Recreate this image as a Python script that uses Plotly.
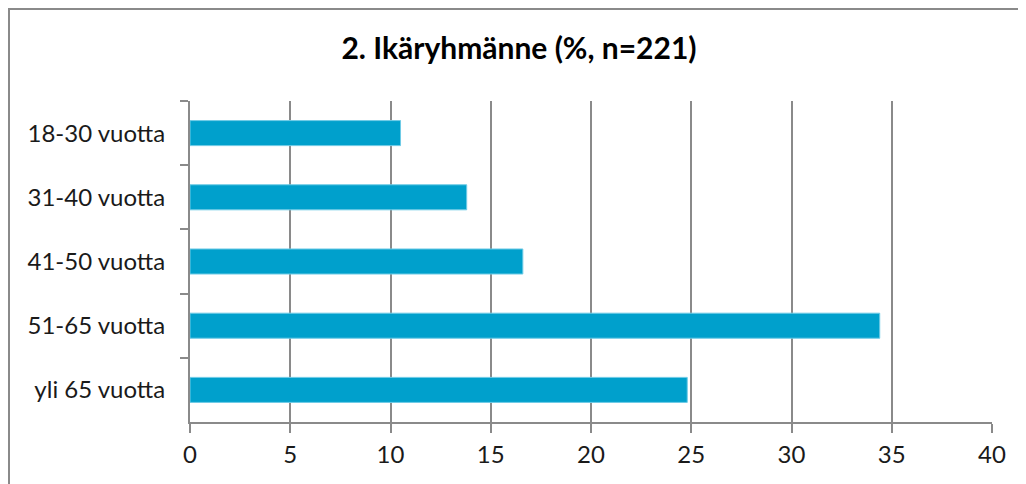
import plotly.graph_objects as go

categories = ["18-30 vuotta", "31-40 vuotta", "41-50 vuotta", "51-65 vuotta", "yli 65 vuotta"]
values = [10.5, 13.8, 16.6, 34.4, 24.8]
x_ticks = [0, 5, 10, 15, 20, 25, 30, 35, 40]
title_text = "2. Ikäryhmänne (%, n=221)"

# page body has an 8px default margin; lay out the figure in page pixels
OFF = 8
PAGE_W, PAGE_H = 1026, 484
W, H = PAGE_W - OFF, PAGE_H - OFF
L, R, T, B = 190 - OFF, PAGE_W - 992, 101 - OFF, PAGE_H - 422
pw, ph = W - L - R, H - T - B

def px_x(px):
    return (px - OFF - L) / pw

def px_y(py):
    return (H - B - (py - OFF)) / ph

fig = go.Figure()
fig.add_trace(go.Bar(
    y=categories, x=values, orientation="h",
    width=0.39,
    marker=dict(color="#00A0CC", line=dict(color="#6fcbe6", width=1)),
    hoverinfo="x+y",
))

fig.update_layout(
    width=W, height=H, autosize=False,
    margin=dict(l=L, r=R, t=T, b=B, pad=0, autoexpand=False),
    paper_bgcolor="white", plot_bgcolor="white",
    showlegend=False,
    font=dict(family="Lato, 'Open Sans', sans-serif", size=24, color="#1a1a1a"),
    title=dict(text="<b>" + title_text + "</b>", x=(519 - OFF) / W, xref="container",
               y=1 - (48 - OFF) / H, yref="container", xanchor="center", yanchor="middle",
               automargin=False,
               font=dict(family="Lato, 'Open Sans', sans-serif", size=30, color="#000000")),
    xaxis=dict(
        range=[0, 40], tickvals=x_ticks, ticktext=[str(v) for v in x_ticks],
        showgrid=True, gridcolor="#8a8a8a", gridwidth=2,
        showline=True, linecolor="#8a8a8a", linewidth=2,
        ticks="outside", ticklen=9, tickwidth=2, tickcolor="#8a8a8a",
        ticklabelstandoff=1, automargin=False,
        zeroline=False, fixedrange=True,
    ),
    yaxis=dict(
        categoryorder="array", categoryarray=categories, autorange="reversed",
        showgrid=False, showline=True, linecolor="#8a8a8a", linewidth=2,
        ticks="outside", ticklen=8, tickwidth=2, tickcolor="#8a8a8a",
        tickson="boundaries", ticklabelstandoff=18, automargin=False,
        zeroline=False, fixedrange=True,
    ),
    shapes=[dict(
        type="rect", xref="paper", yref="paper",
        x0=px_x(9), x1=px_x(PAGE_W + 20), y0=px_y(PAGE_H + 20), y1=px_y(9),
        line=dict(color="#8a8a8a", width=2), fillcolor="rgba(0,0,0,0)", layer="below",
    )],
)

fig.write_html("out.html")
